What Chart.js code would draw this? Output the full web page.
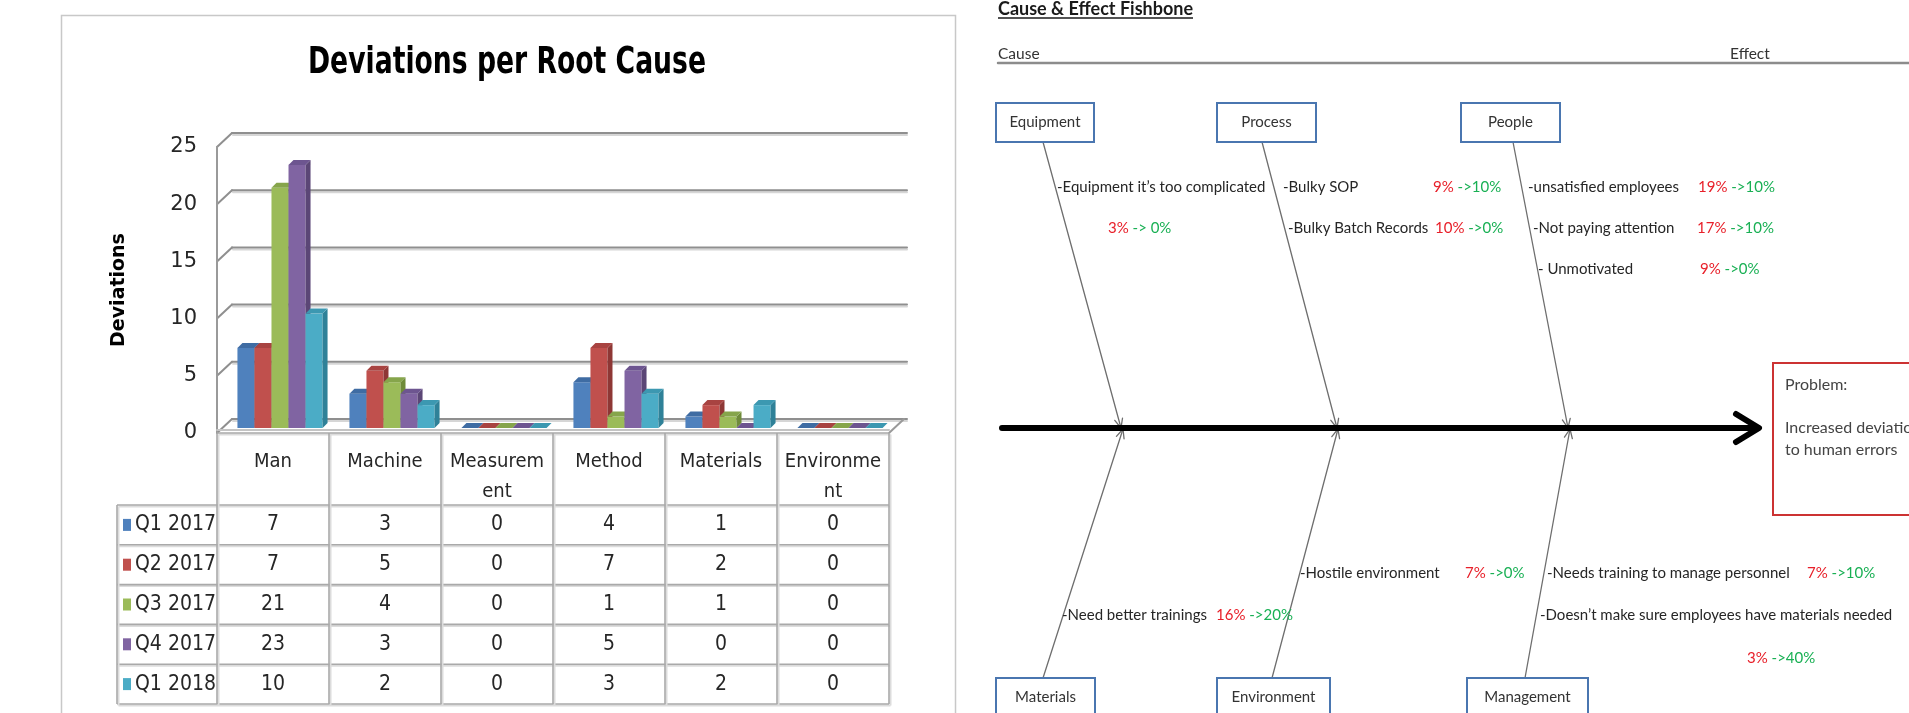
<!DOCTYPE html>
<html><head><meta charset="utf-8">
<script src="https://cdn.jsdelivr.net/npm/chart.js@4/dist/chart.umd.min.js"></script>
<style>
html,body{margin:0;padding:0;background:#fff;width:1909px;height:713px;overflow:hidden;}
#c1{position:absolute;left:0;top:0;}
#c2{position:absolute;left:960px;top:0;}
</style></head><body>
<canvas id="c1" width="960" height="713"></canvas>
<canvas id="c2" width="949" height="713"></canvas>
<script>
// ---------- bar chart data ----------
const categories = ['Man','Machine','Measurement','Method','Materials','Environment'];
const headerLines = [['Man'],['Machine'],['Measurem','ent'],['Method'],['Materials'],['Environme','nt']];
const seriesNames = ['Q1 2017','Q2 2017','Q3 2017','Q4 2017','Q1 2018'];
const q1_2017 = [7,3,0,4,1,0];
const q2_2017 = [7,5,0,7,2,0];
const q3_2017 = [21,4,0,1,1,0];
const q4_2017 = [23,3,0,5,0,0];
const q1_2018 = [10,2,0,3,2,0];
const yTickValues = [0,5,10,15,20,25];
const chartTitle = 'Deviations per Root Cause';
const yTitle = 'Deviations';

// ---------- fishbone data ----------
const fishTitle = 'Cause & Effect Fishbone';
const causeLabel = 'Cause';
const effectLabel = 'Effect';
const branchNames = ['Equipment','Process','People','Materials','Environment','Management'];
const causeTexts = ['-Equipment it\u2019s too complicated','-Bulky SOP','-Bulky Batch Records','-unsatisfied employees','-Not paying attention','- Unmotivated','-Hostile environment','-Need better trainings','-Needs training to manage personnel','-Doesn\u2019t make sure employees have materials needed'];
const beforePct = ['3%','9%','10%','19%','17%','9%','7%','16%','7%','3%'];
const afterPct  = ['-> 0%','->10%','->0%','->10%','->10%','->0%','->0%','->20%','->10%','->40%'];
const problemLines = ['Problem:','','Increased deviations due','to human errors'];

// ---------- styles ----------
const seriesData = [q1_2017,q2_2017,q3_2017,q4_2017,q1_2018];
const frontColors = ['#4F81BD','#C0504D','#9BBB59','#8064A2','#4BACC6'];
const sideColors  = ['#345B8C','#8E3735','#6F8B3A','#5B4676','#2F8198'];
const topColors   = ['#3F6CA3','#A84341','#86A54B','#6D5590','#3C98B1'];
const CFAM = "'DejaVu Sans',sans-serif";
const TXT = "Lato,'Open Sans',sans-serif";

function ln(ctx,x1,y1,x2,y2){ctx.beginPath();ctx.moveTo(x1,y1);ctx.lineTo(x2,y2);ctx.stroke();}
function poly(ctx,pts,col){ctx.beginPath();ctx.moveTo(pts[0][0],pts[0][1]);for(let i=1;i<pts.length;i++)ctx.lineTo(pts[i][0],pts[i][1]);ctx.closePath();ctx.fillStyle=col;ctx.fill();}

const deco3d = {
  id:'deco3d',
  beforeDraw(chart){
    const ctx=chart.ctx;
    ctx.save();
    ctx.fillStyle='#fff';ctx.fillRect(0,0,chart.width,chart.height);
    ctx.strokeStyle='#c8c8c8';ctx.lineWidth=1.5;
    ctx.strokeRect(61.5,15.5,894,730);
    // chart title: tall condensed bold, centred over the panel
    ctx.font="bold condensed 38px "+CFAM;
    ctx.textAlign='center';ctx.textBaseline='middle';ctx.fillStyle='#000';
    const w=ctx.measureText(chartTitle).width;
    ctx.translate(507,63);ctx.scale(398/w,1);
    ctx.fillText(chartTitle,0,0);
    ctx.restore();
  },
  beforeDatasetsDraw(chart){
    const ctx=chart.ctx, a=chart.chartArea, x=chart.scales.x, y=chart.scales.y;
    const BX=15, BY=14, FX=7, FY=5, D=5;
    ctx.save();
    ctx.lineCap='round';
    yTickValues.forEach(v=>{
      const yy=y.getPixelForValue(v);
      ctx.strokeStyle='#d6d6d6';ctx.lineWidth=2;
      ln(ctx,a.left+BX+1,yy-BY+2,a.right+BX+3,yy-BY+2);
      ctx.strokeStyle='#8f8f8f';ctx.lineWidth=2;
      ln(ctx,a.left,yy,a.left+BX,yy-BY);
      ln(ctx,a.left+BX,yy-BY,a.right+BX+3,yy-BY);
    });
    ctx.strokeStyle='#9a9a9a';ctx.lineWidth=2;
    ln(ctx,a.left,y.getPixelForValue(yTickValues[yTickValues.length-1]),a.left,a.bottom);
    ln(ctx,a.right,a.bottom,a.right+BX,a.bottom-BY);
    ctx.strokeStyle='#c4c4c4';ctx.lineWidth=2;
    ln(ctx,a.left,a.bottom-3,a.right,a.bottom-3);
    for(let i=0;i<categories.length;i++){
      for(let d=0;d<chart.data.datasets.length;d++){
        const el=chart.getDatasetMeta(d).data[i];
        const w=el.width, L=el.x-w/2+FX, R=el.x+w/2+FX, T=el.y-FY, B=el.base-FY;
        if(B-T>0.5){ctx.fillStyle=frontColors[d];ctx.fillRect(L,T,w,B-T);}
        poly(ctx,[[R,T],[R+D,T-D],[R+D,B-D],[R,B]],sideColors[d]);
        poly(ctx,[[L,T],[L+D,T-D],[R+D,T-D],[R,T]],topColors[d]);
      }
    }
    // data table
    const bandW=(x.right-x.left)/categories.length;
    const legendLeft=117, headerBottom=a.bottom+72, rowH=39.8;
    const tableBottom=headerBottom+rowH*seriesNames.length;
    ctx.lineCap='butt';
    const grid=(x1,y1,x2,y2)=>{ctx.strokeStyle='#dcdcdc';ctx.lineWidth=2;ln(ctx,x1+1.5,y1+1.5,x2+1.5,y2+1.5);ctx.strokeStyle='#a9a9a9';ctx.lineWidth=1.6;ln(ctx,x1,y1,x2,y2);};
    grid(a.left,a.bottom,a.right,a.bottom);
    for(let r=0;r<=seriesNames.length;r++){const yy=headerBottom+r*rowH;grid(legendLeft,yy,a.right,yy);}
    for(let c=0;c<=categories.length;c++){const xx=x.left+c*bandW;grid(xx,a.bottom,xx,tableBottom);}
    grid(legendLeft,headerBottom,legendLeft,tableBottom);
    ctx.fillStyle='#262626';ctx.textAlign='center';ctx.textBaseline='middle';
    ctx.font="condensed 20px "+CFAM;
    headerLines.forEach((lines,c)=>{
      const cx=x.getPixelForValue(c);
      lines.forEach((t,k)=>ctx.fillText(t,cx,a.bottom+29+k*30));
    });
    ctx.font="condensed 21px "+CFAM;
    seriesNames.forEach((nm,r)=>{
      const cy=headerBottom+r*rowH+rowH/2;
      ctx.fillStyle=frontColors[r];ctx.fillRect(legendLeft+6,cy-6,8,12);
      ctx.fillStyle='#262626';ctx.textAlign='left';
      ctx.fillText(nm,legendLeft+18,cy);
      ctx.textAlign='center';
      seriesData[r].forEach((v,c)=>ctx.fillText(String(v),x.getPixelForValue(c),cy));
    });
    ctx.restore();
    return false;
  }
};

new Chart(document.getElementById('c1'),{
  type:'bar',
  data:{labels:categories,datasets:seriesNames.map((n,i)=>({label:n,data:seriesData[i],backgroundColor:frontColors[i],categoryPercentage:0.76,barPercentage:1.0}))},
  options:{
    responsive:false,animation:false,
    layout:{padding:{left:123,right:71,top:147,bottom:0}},
    plugins:{legend:{display:false},tooltip:{enabled:false},title:{display:false}},
    scales:{
      x:{grid:{display:false},border:{display:false},ticks:{display:false},afterFit(s){s.height=280;}},
      y:{min:0,max:25,grid:{display:false,drawTicks:false},border:{display:false},
         ticks:{stepSize:5,padding:20,color:'#262626',font:{family:CFAM,size:21,style:'condensed'}},
         title:{display:true,text:yTitle,color:'#000',font:{family:CFAM,size:19,weight:'bold'},padding:{top:-15,bottom:0}},
         afterFit(s){s.width=94;}}
    }
  },
  plugins:[deco3d]
});

// ---------- fishbone diagram (diagram units = page pixels) ----------
const boxes=[[996,103,98,39],[1217,103,99,39],[1461,103,99,39],[996,678,99,40],[1217,678,113,40],[1467,678,121,40]];
const bones=[[[1043,142],[1121,428]],[[1262,142],[1337,428]],[[1513,142],[1568,428]],[[1043,678],[1123,429]],[[1272,678],[1338,429]],[[1525,678],[1570,429]]];
const causePos=[[1057,187],[1283,187],[1288,228],[1528,187],[1533,228],[1538,269],[1300,573],[1062,615],[1547,573],[1540,615]];
const pctPos=[[1108,228],[1433,187],[1435,228],[1698,187],[1697,228],[1700,269],[1465,573],[1216,615],[1807,573],[1747,658]];

const fishDeco={
  id:'fishDeco',
  beforeDraw(chart){const c=chart.ctx;c.save();c.fillStyle='#fff';c.fillRect(0,0,chart.width,chart.height);c.restore();},
  afterDatasetsDraw(chart){
    const ctx=chart.ctx,X=v=>chart.scales.x.getPixelForValue(v),Y=v=>chart.scales.y.getPixelForValue(v);
    ctx.save();
    ctx.textBaseline='middle';
    ctx.fillStyle='#1a1a1a';ctx.font="bold 18px "+TXT;ctx.textAlign='left';
    ctx.fillText(fishTitle,X(998),Y(9));
    const tw=ctx.measureText(fishTitle).width;
    ctx.strokeStyle='#1a1a1a';ctx.lineWidth=1.3;ln(ctx,X(998),Y(18),X(998)+tw,Y(18));
    ctx.font="15.5px "+TXT;ctx.fillStyle='#333';
    ctx.fillText(causeLabel,X(998),Y(54));
    ctx.fillText(effectLabel,X(1730),Y(54));
    boxes.forEach((b,i)=>{
      ctx.fillStyle='#fff';ctx.fillRect(X(b[0]),Y(b[1]),b[2],b[3]);
      ctx.strokeStyle='#4a76b0';ctx.lineWidth=2;ctx.strokeRect(X(b[0]),Y(b[1]),b[2],b[3]);
      ctx.fillStyle='#333';ctx.font="15px "+TXT;ctx.textAlign='center';
      ctx.fillText(branchNames[i],X(b[0]+b[2]/2),Y(b[1]+19));
    });
    ctx.strokeStyle='#cc3333';ctx.lineWidth=2;ctx.strokeRect(X(1773),Y(363),200,152);
    ctx.fillStyle='#444';ctx.font="16px "+TXT;ctx.textAlign='left';
    problemLines.forEach((t,k)=>{ if(t) ctx.fillText(t,X(1785),Y(385+k*21.5)); });
    ctx.font="15px "+TXT;
    causeTexts.forEach((t,i)=>{
      ctx.fillStyle='#262626';ctx.textAlign='left';
      ctx.fillText(t,X(causePos[i][0]),Y(causePos[i][1]));
      const px=X(pctPos[i][0]),py=Y(pctPos[i][1]);
      ctx.fillStyle='#e8202a';ctx.fillText(beforePct[i],px,py);
      const w=ctx.measureText(beforePct[i]+' ').width;
      ctx.fillStyle='#19b054';ctx.fillText(afterPct[i],px+w,py);
    });
    ctx.restore();
  }
};

const lineDs=(pts,col,w,order)=>({data:pts.map(p=>({x:p[0],y:p[1]})),showLine:true,pointRadius:0,borderColor:col,borderWidth:w,order:order,borderCapStyle:'round',borderJoinStyle:'round'});
const tipFor=b=>{const dx=b[1][0]-b[0][0],dy=b[1][1]-b[0][1],L=Math.hypot(dx,dy),ux=dx/L,uy=dy/L,px=-uy,py=ux,e=b[1];
  return [[e[0]-9*ux+4*px,e[1]-9*uy+4*py],e,[e[0]-9*ux-4*px,e[1]-9*uy-4*py]];};
new Chart(document.getElementById('c2'),{
  type:'scatter',
  data:{datasets:[
    lineDs([[1002,428],[1757,428]],'#000',6,0),
    lineDs([[1736,414],[1759,428],[1736,442]],'#000',6,0),
    lineDs([[998,63],[1909,63]],'#8c8c8c',2.5,1),
    ...bones.map(b=>lineDs(b,'#6e6e6e',1.3,1)),
    ...bones.map(b=>lineDs(tipFor(b),'#6e6e6e',1.3,1))
  ]},
  options:{
    responsive:false,animation:false,
    layout:{padding:0},
    plugins:{legend:{display:false},tooltip:{enabled:false}},
    scales:{x:{type:'linear',min:960,max:1909,display:false},y:{type:'linear',min:0,max:713,reverse:true,display:false}}
  },
  plugins:[fishDeco]
});
</script>
</body></html>
